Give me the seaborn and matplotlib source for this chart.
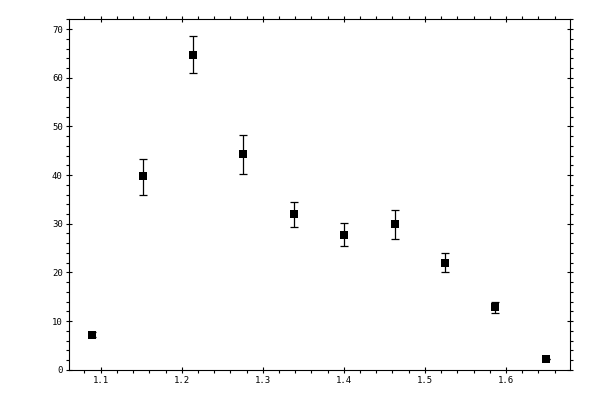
import matplotlib
matplotlib.use("Agg")
import matplotlib.pyplot as plt
import seaborn as sns
import numpy as np
import pandas as pd
from matplotlib.ticker import MultipleLocator, FormatStrFormatter

x_vals = [1.0896, 1.1526, 1.2142, 1.2759, 1.3388, 1.4005, 1.4634, 1.5251, 1.5869, 1.6494]
y_vals = [7.2, 39.7, 64.6, 44.25, 31.9, 27.6, 29.9, 21.9, 12.8, 2.2]
err_low = [0.5, 3.7, 3.7, 4.05, 2.6, 2.25, 3.1, 1.9, 1.2, 0.1]
err_high = [0.5, 3.5, 3.9, 4.05, 2.5, 2.5, 2.85, 2.0, 1.2, 0.1]

df = pd.DataFrame({"x": x_vals, "y": y_vals})

sns.set_style("ticks")
plt.rcParams["font.family"] = ["DejaVu Sans Mono", "DejaVu Sans"]

fig = plt.figure(figsize=(6, 4), dpi=100)
ax = fig.add_axes([69/600, 30/400, 501/600, 350.7/400])

ax.errorbar(df["x"], df["y"], yerr=[err_low, err_high], fmt="none",
            ecolor="black", elinewidth=0.9, capsize=3.2, capthick=0.9, zorder=2)
sns.scatterplot(data=df, x="x", y="y", marker="s", s=28, color="black",
                linewidth=0, ax=ax, zorder=3)

ax.set_xlim(1.0609, 1.679)
ax.set_ylim(-0.06, 72.0)
ax.xaxis.set_major_locator(MultipleLocator(0.1))
ax.xaxis.set_minor_locator(MultipleLocator(0.02))
ax.yaxis.set_major_locator(MultipleLocator(10))
ax.yaxis.set_minor_locator(MultipleLocator(2))
ax.xaxis.set_major_formatter(FormatStrFormatter("%.1f"))
ax.yaxis.set_major_formatter(FormatStrFormatter("%d"))

ax.set_xlabel("")
ax.set_ylabel("")
for sp in ax.spines.values():
    sp.set_visible(True)
    sp.set_linewidth(0.8)
    sp.set_color("black")

ax.tick_params(which="major", direction="inout", length=5, width=0.8,
               top=True, right=True, labelsize=6.5, pad=2, colors="black")
ax.tick_params(which="minor", direction="out", length=2.3, width=0.8,
               top=True, right=True, colors="black")

fig.savefig("out.png", dpi=100)
